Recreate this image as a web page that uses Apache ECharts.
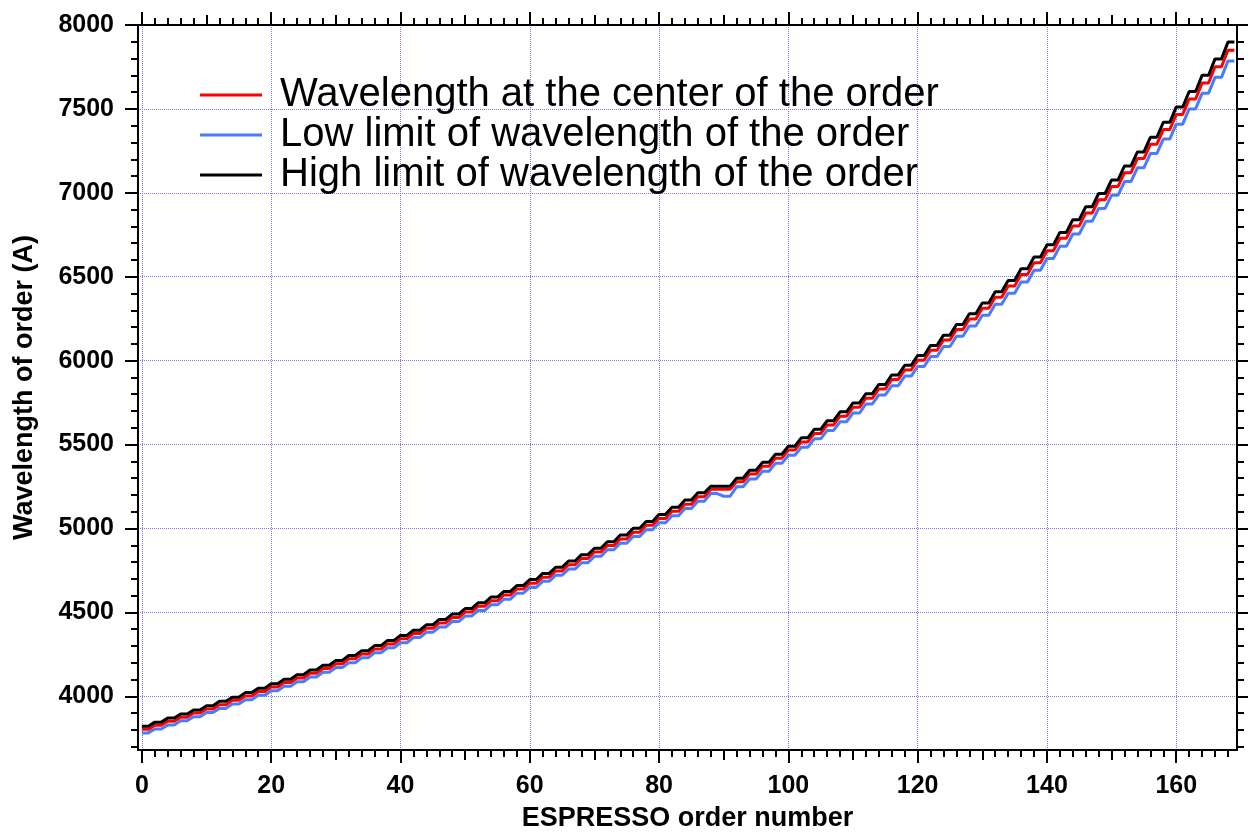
<!DOCTYPE html>
<html>
<head>
<meta charset="utf-8">
<script src="https://cdn.jsdelivr.net/npm/echarts@6/dist/echarts.min.js"></script>
<style>
html,body{margin:0;padding:0;background:#fff}
#chart{width:1249px;height:834px}
</style>
</head>
<body>
<div id="chart"></div>
<script>
// one value per physical echelle order, each order is split in two slices
// first 45 = blue arm, last 40 = red arm
var centerWl = [
    3803,3827,3851,3875,3900,3925,3950,3976,4002,4028,
    4055,4082,4109,4137,4165,4194,4223,4252,4282,4312,
    4343,4374,4405,4437,4469,4502,4536,4569,4604,4639,
    4674,4710,4747,4784,4821,4860,4898,4938,4978,5019,
    5060,5103,5145,5189,5233,
    5233,5278,5324,5371,5419,5467,5516,5566,5617,5669,
    5722,5776,5831,5888,5945,6003,6062,6123,6185,6248,
    6312,6378,6445,6514,6584,6655,6729,6803,6880,6958,
    7038,7120,7204,7289,7377,7467,7559,7654,7751,7850
];
var lowWl = [
    3782,3805,3829,3854,3878,3903,3928,3954,3980,4006,
    4033,4060,4087,4115,4143,4171,4200,4229,4259,4289,
    4319,4350,4381,4413,4445,4478,4511,4545,4579,4614,
    4649,4685,4722,4758,4796,4834,4873,4912,4952,4993,
    5034,5076,5119,5162,5208,
    5192,5249,5295,5341,5388,5436,5484,5534,5584,5636,
    5688,5742,5796,5851,5908,5965,6024,6084,6145,6207,
    6271,6336,6402,6469,6539,6609,6681,6755,6830,6907,
    6986,7067,7149,7234,7320,7409,7500,7593,7688,7786
];
var highWl = [
    3822,3846,3870,3894,3919,3944,3970,3995,4022,4048,
    4075,4102,4129,4157,4185,4214,4243,4272,4302,4333,
    4363,4394,4426,4458,4490,4523,4557,4591,4625,4660,
    4696,4732,4769,4806,4844,4882,4921,4961,5001,5042,
    5084,5126,5169,5213,5252,
    5252,5300,5347,5394,5442,5490,5540,5591,5642,5695,
    5748,5803,5858,5915,5972,6031,6091,6152,6215,6279,
    6344,6410,6478,6547,6618,6690,6764,6840,6917,6996,
    7077,7160,7244,7331,7420,7511,7604,7700,7798,7898
];
var seriesNames = [
    'Wavelength at the center of the order',
    'Low limit of wavelength of the order',
    'High limit of wavelength of the order'
];
var seriesColors = ['#ff0000', '#4a7bff', '#000000'];

var xMajorTicks = [0,20,40,60,80,100,120,140,160];
var xMidTicks = [10,30,50,70,90,110,130,150];
var xMinorTicks = [2,4,6,8,12,14,16,18,22,24,26,28,32,34,36,38,42,44,46,48,
    52,54,56,58,62,64,66,68,72,74,76,78,82,84,86,88,92,94,96,98,
    102,104,106,108,112,114,116,118,122,124,126,128,132,134,136,138,
    142,144,146,148,152,154,156,158,162,164,166,168];
var yMajorTicks = [4000,4500,5000,5500,6000,6500,7000,7500,8000];
var yMinorTicks = [3700,3800,3900,4100,4200,4300,4400,4600,4700,4800,4900,
    5100,5200,5300,5400,5600,5700,5800,5900,6100,6200,6300,6400,
    6600,6700,6800,6900,7100,7200,7300,7400,7600,7700,7800,7900];

var xMin = -0.6, xMax = 169.4, yMin = 3680, yMax = 8000;
var font = 'Liberation Sans, Arial, Helvetica, sans-serif';

function slices(perOrder){
    var out = [];
    perOrder.forEach(function(v, k){
        out.push([2*k, v]);
        out.push([2*k+1, v]);
    });
    return out;
}

function tickAxis(pos, ticks, len, showLine, isY){
    return {
        type: 'value',
        position: pos,
        min: isY ? yMin : xMin,
        max: isY ? yMax : xMax,
        axisLine: {show: showLine, onZero: false, lineStyle: {color: '#000', width: 2}},
        axisTick: {show: true, customValues: ticks, length: len, lineStyle: {color: '#000', width: 2}},
        axisLabel: {show: false},
        splitLine: {show: false}
    };
}

var chart = echarts.init(document.getElementById('chart'));
var gridLine = {show: true, lineStyle: {color: '#7878ff', type: 'dotted', width: 1}};
var plain = function(v){ return String(v); };

var option = {
    animation: false,
    backgroundColor: '#fff',
    grid: {left: 138, right: 12, top: 25, bottom: 84, containLabel: false, outerBoundsMode: 'none'},
    legend: {
        left: 200,
        top: 75,
        padding: 0,
        orient: 'vertical',
        itemWidth: 62,
        itemHeight: 3,
        itemGap: 0,
        data: seriesNames.map(function(n, i){
            return {name: n, icon: 'rect', itemStyle: {color: seriesColors[i]}};
        }),
        textStyle: {fontSize: 40, fontFamily: font, color: '#000', lineHeight: 40, padding: [0, 0, 0, 13]}
    },
    xAxis: [
        {
            type: 'value',
            position: 'bottom',
            min: xMin,
            max: xMax,
            splitNumber: 9,
            name: 'ESPRESSO order number',
            nameLocation: 'middle',
            nameGap: 55,
            nameTextStyle: {fontSize: 27, fontWeight: 'bold', fontFamily: font, color: '#000'},
            axisLine: {show: true, onZero: false, lineStyle: {color: '#000', width: 2}},
            axisTick: {show: true, customValues: xMajorTicks, length: 13, lineStyle: {color: '#000', width: 2}},
            axisLabel: {customValues: xMajorTicks, formatter: plain, fontSize: 25, fontWeight: 'bold', fontFamily: font, color: '#000', margin: 24},
            splitLine: gridLine
        },
        tickAxis('bottom', xMidTicks, 10, false, false),
        tickAxis('bottom', xMinorTicks, 7, false, false),
        tickAxis('top', xMajorTicks, 13, true, false),
        tickAxis('top', xMidTicks, 10, false, false),
        tickAxis('top', xMinorTicks, 7, false, false)
    ],
    yAxis: [
        {
            type: 'value',
            position: 'left',
            min: yMin,
            max: yMax,
            splitNumber: 9,
            name: 'Wavelength of order (A)',
            nameLocation: 'middle',
            nameGap: 100,
            nameTextStyle: {fontSize: 27, fontWeight: 'bold', fontFamily: font, color: '#000'},
            axisLine: {show: true, onZero: false, lineStyle: {color: '#000', width: 2}},
            axisTick: {show: true, customValues: yMajorTicks, length: 13, lineStyle: {color: '#000', width: 2}},
            axisLabel: {customValues: yMajorTicks, formatter: plain, fontSize: 25, fontWeight: 'bold', fontFamily: font, color: '#000', margin: 24},
            splitLine: gridLine
        },
        tickAxis('left', yMinorTicks, 7, false, true),
        tickAxis('right', yMajorTicks, 11, true, true),
        tickAxis('right', yMinorTicks, 7, false, true)
    ],
    series: [
        {name: seriesNames[0], type: 'line', data: slices(centerWl), symbol: 'none',
            lineStyle: {color: seriesColors[0], width: 3}, itemStyle: {color: seriesColors[0]}, z: 3},
        {name: seriesNames[1], type: 'line', data: slices(lowWl), symbol: 'none',
            lineStyle: {color: seriesColors[1], width: 3}, itemStyle: {color: seriesColors[1]}, z: 2},
        {name: seriesNames[2], type: 'line', data: slices(highWl), symbol: 'none',
            lineStyle: {color: seriesColors[2], width: 3}, itemStyle: {color: seriesColors[2]}, z: 4}
    ]
};
chart.setOption(option);
</script>
</body>
</html>
